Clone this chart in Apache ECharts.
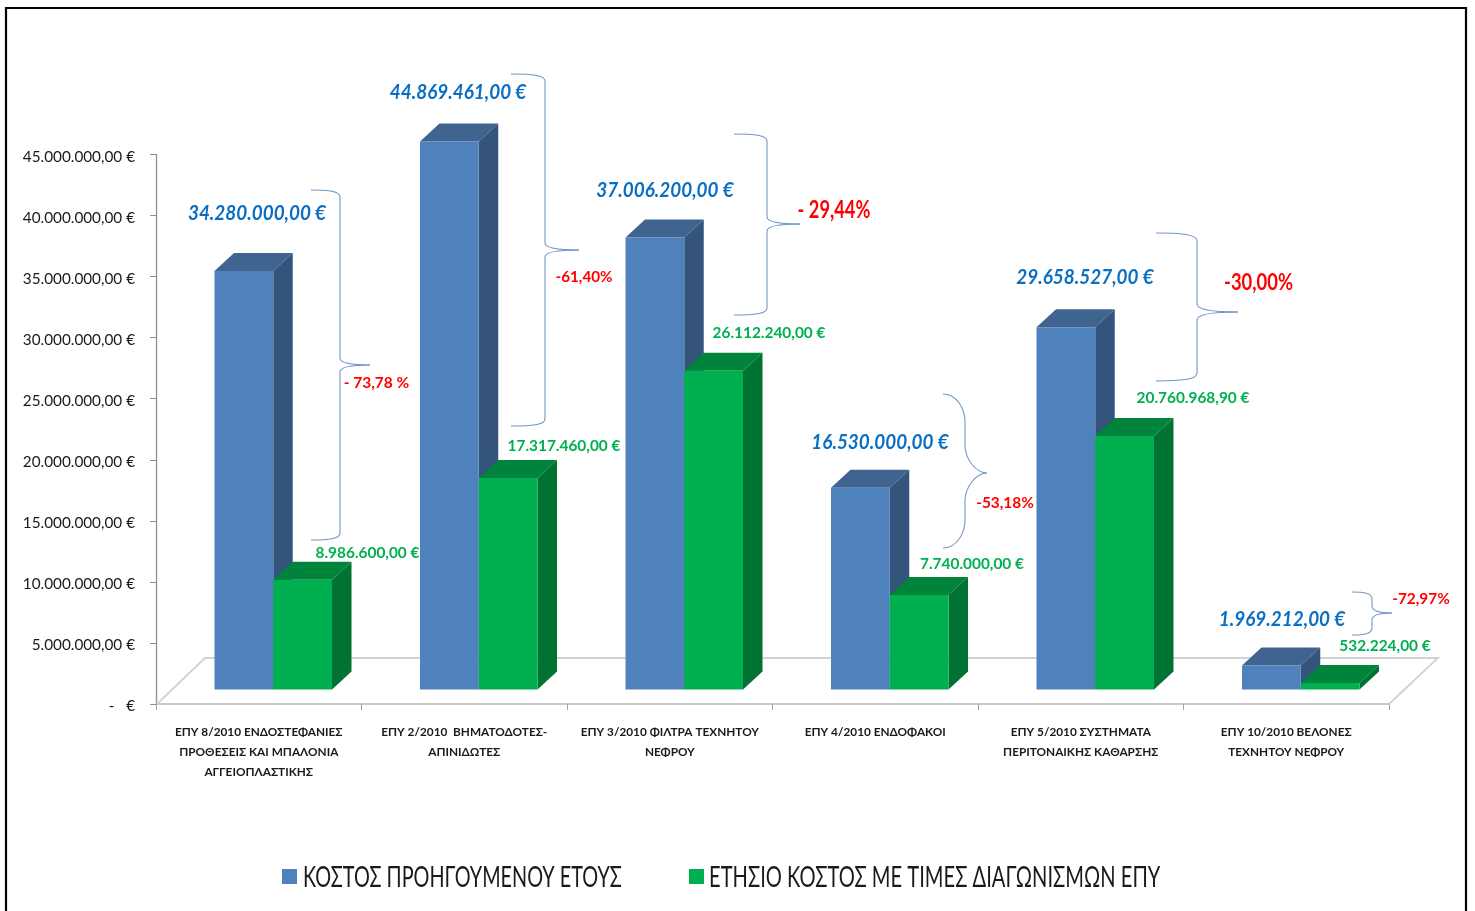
<!DOCTYPE html>
<html><head><meta charset="utf-8">
<style>html,body{margin:0;padding:0;background:#fff;overflow:hidden}#c{width:1475px;height:911px}</style>
<script src="https://cdn.jsdelivr.net/npm/echarts@6/dist/echarts.min.js"></script>
</head><body><div id="c"></div>
<script>
var FONT = 'Lato,"Open Sans",sans-serif';
var categories = [
  'ΕΠΥ 8/2010 ΕΝΔΟΣΤΕΦΑΝΙΕΣ\nΠΡΟΘΕΣΕΙΣ ΚΑΙ ΜΠΑΛΟΝΙΑ\nΑΓΓΕΙΟΠΛΑΣΤΙΚΗΣ',
  'ΕΠΥ 2/2010  ΒΗΜΑΤΟΔΟΤΕΣ-\nΑΠΙΝΙΔΩΤΕΣ',
  'ΕΠΥ 3/2010 ΦΙΛΤΡΑ ΤΕΧΝΗΤΟΥ\nΝΕΦΡΟΥ',
  'ΕΠΥ 4/2010 ΕΝΔΟΦΑΚΟΙ',
  'ΕΠΥ 5/2010 ΣΥΣΤΗΜΑΤΑ\nΠΕΡΙΤΟΝΑΙΚΗΣ ΚΑΘΑΡΣΗΣ',
  'ΕΠΥ 10/2010 ΒΕΛΟΝΕΣ\nΤΕΧΝΗΤΟΥ ΝΕΦΡΟΥ'
];
var previousCost = [34280000, 44869461, 37006200, 16530000, 29658527, 1969212];
var annualCost = [8986600, 17317460, 26112240, 7740000, 20760968.9, 532224];
var reductions = ['- 73,78 %', '-61,40%', '- 29,44%', '-53,18%', '-30,00%', '-72,97%'];
var seriesNames = ['ΚΟΣΤΟΣ ΠΡΟΗΓΟΥΜΕΝΟΥ ΕΤΟΥΣ', 'ΕΤΗΣΙΟ ΚΟΣΤΟΣ ΜΕ ΤΙΜΕΣ ΔΙΑΓΩΝΙΣΜΩΝ ΕΠΥ'];

function money(v){
  var p = v.toFixed(2).split('.');
  return p[0].replace(/\B(?=(\d{3})+$)/g,'.') + ',' + p[1] + ' €';
}

// annotation placement (pixels): x, y, font size, horizontal squeeze
var bluePos = [[257,213.5],[458,92.5],[665,190.5],[880,442.5],[1085,277.5],[1282,619.5]];
var greenPos = [[367.5,553.5],[564,446.5],[769,333.5],[972,564.5],[1193,398.5],[1385,646.5]];
var redPos = [[376.5,382.5,15.5,1],[584,277.5,15.2,1],[834,210,24,0.76],[1005,503.5,15.4,1],[1258.5,283,23,0.8],[1421,599.5,15.4,1]];
// x0 start, xm spine, xt tip, y0 top, yt tip, y1 bottom, curl, softness
var braces = [
  [311,340,370,190,365,540,7,0.14],
  [511,545,579,74,250,426,7,0.14],
  [734,767,800,134,224,315,7,0.14],
  [943,965,987,394,473,548,28,0.5],
  [1156,1197,1238,233,312,381,8,0.14],
  [1352,1372,1392,592,613,635,7,0.14]
];
var braceStyle = {fill:'none',stroke:'#7396c6',lineWidth:1.1};
function curve(a,b,c,d){
  return {type:'bezierCurve', z:20, silent:true, shape:{x1:a[0],y1:a[1],cpx1:b[0],cpy1:b[1],cpx2:c[0],cpy2:c[1],x2:d[0],y2:d[1]}, style:braceStyle};
}
function seg(a,b){
  return {type:'line', z:20, silent:true, shape:{x1:a[0],y1:a[1],x2:b[0],y2:b[1]}, style:braceStyle};
}
function braceParts(b){
  var x0=b[0],xm=b[1],xt=b[2],y0=b[3],yt=b[4],y1=b[5],r=b[6],k=b[7]*r;
  var xa=x0+(xm-x0)*0.6, xb=xm+(xt-xm)*0.5;
  return [
    curve([x0,y0],[xa,y0],[xm,y0+k],[xm,y0+r]),
    seg([xm,y0+r],[xm,yt-r]),
    curve([xm,yt-r],[xm,yt-k],[xb,yt],[xt,yt]),
    curve([xt,yt],[xb,yt],[xm,yt+k],[xm,yt+r]),
    seg([xm,yt+r],[xm,y1-r]),
    curve([xm,y1-r],[xm,y1-k],[xa,y1],[x0,y1])
  ];
}

var DX = 19.5, DY = 18, LIFT = 15, SHIFT = 14.5, BW = 58.75;
function bar3d(colors, side){
  return function(params, api){
    var i = api.value(0), v = api.value(1);
    var c = api.coord([i, v]), o = api.coord([i, 0]);
    var x0 = c[0] + SHIFT + (side ? 0 : -BW), x1 = x0 + BW;
    var yt = c[1] - LIFT + 0.5, yb = o[1] - LIFT + 0.5;
    return {type:'group', children:[
      {type:'polygon', shape:{points:[[x1,yb],[x1+DX,yb-DY],[x1+DX,yt-DY],[x1,yt]]}, style:{fill:colors[2]}},
      {type:'polygon', shape:{points:[[x0,yt],[x0+DX,yt-DY],[x1+DX,yt-DY],[x1,yt]]}, style:{fill:colors[1]}},
      {type:'rect', shape:{x:x0,y:yt,width:BW,height:yb-yt}, style:{fill:colors[0]}}
    ]};
  };
}
function seriesData(a){ return a.map(function(v,i){return [i,v];}); }

var graphics = [
  {type:'rect', z:0, silent:true, shape:{x:6,y:8,width:1460,height:930}, style:{fill:'none',stroke:'#000',lineWidth:2.2}},
  {type:'polyline', z:1, silent:true, shape:{points:[[157,704],[205,658],[1438,658],[1389,704]]}, style:{fill:'none',stroke:'#d2d2d2',lineWidth:1.8}}
];
braces.forEach(function(b){ graphics = graphics.concat(braceParts(b)); });
function txt(s,p,size,color,italic,sx,align,weight){
  return {type:'text', z:21, silent:true, x:p[0], y:p[1], scaleX:sx||1, style:{text:s, fill:color, font:(italic?'italic ':'')+(weight||'bold')+' '+size+'px '+FONT, textAlign:align||'center', textVerticalAlign:'middle'}};
}
previousCost.forEach(function(v,i){ graphics.push(txt(money(v),bluePos[i],21,'#0a6fc2',true,0.9)); });
annualCost.forEach(function(v,i){ graphics.push(txt(money(v),greenPos[i],15.4,'#00b050',false)); });
reductions.forEach(function(s,i){ graphics.push(txt(s,redPos[i],redPos[i][2],'#ff0000',false,redPos[i][3])); });
// legend labels squeezed to the reference's tall, condensed lettering
graphics.push(txt(seriesNames[0],[303,878],28,'#1a1a1a',false,0.708,'left','normal'));
graphics.push(txt(seriesNames[1],[709,878],28,'#1a1a1a',false,0.719,'left','normal'));

var chart = echarts.init(document.getElementById('c'));
chart.setOption({
  animation:false,
  backgroundColor:'#fff',
  textStyle:{fontFamily:FONT},
  grid:{left:156,right:86,top:154.5,bottom:207,containLabel:false},
  legend:{left:277,top:864,itemWidth:15,itemHeight:15,itemGap:392,icon:'rect',
    formatter:function(){return '';},
    data:seriesNames},
  xAxis:{type:'category',data:categories,
    axisLine:{lineStyle:{color:'#c9c9c9',width:2}},
    axisTick:{show:true,length:6,alignWithLabel:false,lineStyle:{color:'#a0a0a0',width:1}},
    axisLabel:{interval:0,margin:18,fontSize:11.8,fontWeight:'bold',color:'#1a1a1a',lineHeight:20,fontFamily:FONT}},
  yAxis:{type:'value',min:0,max:45000000,interval:5000000,
    axisLine:{show:true,lineStyle:{color:'#909090',width:1.3}},
    axisTick:{show:true,length:6,lineStyle:{color:'#909090',width:1}},
    splitLine:{show:false},
    axisLabel:{margin:21,fontSize:15.3,color:'#1a1a1a',fontFamily:FONT,verticalAlign:'top',lineHeight:5,
      formatter:function(v){return v===0?'-   €':money(v);}}},
  series:[
    {name:seriesNames[0],type:'custom',z:5,itemStyle:{color:'#4f81bd'},encode:{x:0,y:1},data:seriesData(previousCost),renderItem:bar3d(['#4f81bd','#3f648f','#34547b'],0)},
    {name:seriesNames[1],type:'custom',z:6,itemStyle:{color:'#00b050'},encode:{x:0,y:1},data:seriesData(annualCost),renderItem:bar3d(['#00b050','#00843c','#007232'],1)}
  ],
  graphic:{elements:graphics}
});
</script></body></html>
